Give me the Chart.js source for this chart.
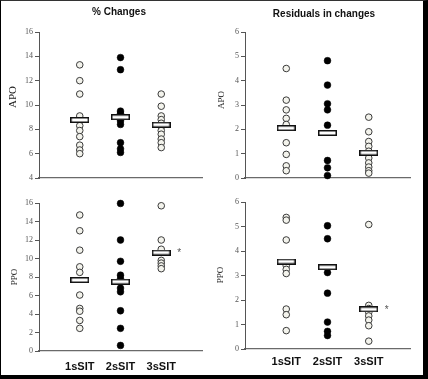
<!DOCTYPE html>
<html><head><meta charset="utf-8">
<script src="https://cdn.jsdelivr.net/npm/chart.js@4/dist/chart.umd.min.js"></script>
<style>
html,body{margin:0;padding:0;background:#fff;}
#wrap{position:relative;width:428px;height:379px;overflow:hidden;background:#fff;}
#frame{position:absolute;left:0;top:0;width:428px;height:379px;box-sizing:border-box;border-left:1px solid #000;border-top:1px solid #333;border-right:5px solid #000;border-bottom:4px solid #000;pointer-events:none;z-index:2;}
canvas{position:absolute;}
</style></head><body>
<div id="wrap">
<canvas id="c0" width="214" height="190" style="left:0;top:0"></canvas>
<canvas id="c1" width="214" height="190" style="left:214px;top:0"></canvas>
<canvas id="c2" width="214" height="189" style="left:0;top:190px"></canvas>
<canvas id="c3" width="214" height="189" style="left:214px;top:190px"></canvas>
<div id="frame"></div>
</div>
<script>
// ---- data ----
const categories = ['1sSIT', '2sSIT', '3sSIT'];
const panelTitles = ['% Changes', 'Residuals in changes'];
const rowTitles = ['APO', 'PPO'];

const pctTicksApo = [4, 6, 8, 10, 12, 14, 16];
const pctTicksPpo = [0, 2, 4, 6, 8, 10, 12, 14, 16];
const resTicks = [0, 1, 2, 3, 4, 5, 6];

const apoPct1sSIT = [13.3, 12.0, 10.9, 9.1, 8.3, 7.9, 7.4, 6.7, 6.3, 6.0];
const apoPct2sSIT = [13.9, 12.9, 9.5, 9.3, 8.9, 8.7, 8.4, 6.9, 6.4, 6.1];
const apoPct3sSIT = [10.9, 9.9, 9.1, 8.8, 8.5, 8.2, 7.9, 7.6, 7.2, 6.9, 6.5];
const apoPctMeans = [8.77, 9.0, 8.38];

const apoRes1sSIT = [4.5, 3.2, 2.8, 2.45, 2.2, 1.45, 0.97, 0.5, 0.3];
const apoRes2sSIT = [4.82, 3.82, 3.05, 2.8, 2.17, 0.72, 0.42, 0.1];
const apoRes3sSIT = [2.5, 1.9, 1.5, 1.3, 1.1, 0.82, 0.62, 0.45, 0.3, 0.2];
const apoResMeans = [2.05, 1.85, 1.04];

const ppoPct1sSIT = [14.7, 13.0, 10.9, 9.1, 8.5, 6.05, 4.6, 4.3, 3.3, 2.45];
const ppoPct2sSIT = [15.95, 12.0, 9.7, 8.2, 7.8, 6.8, 6.4, 4.35, 2.45, 0.6];
const ppoPct3sSIT = [15.7, 12.0, 11.0, 9.8, 9.5, 9.2, 8.9];
const ppoPctMeans = [7.67, 7.49, 10.64];

const ppoRes1sSIT = [5.37, 5.26, 4.45, 3.4, 3.25, 3.08, 1.63, 1.4, 0.75];
const ppoRes2sSIT = [5.03, 4.5, 3.12, 2.28, 1.1, 0.72, 0.55];
const ppoRes3sSIT = [5.08, 1.78, 1.65, 1.5, 1.35, 1.18, 0.95, 0.32];
const ppoResMeans = [3.57, 3.34, 1.62];

const significantPpo = [false, false, true];

// ---- rendering ----
function makeMeanMarker() {
  const c = document.createElement('canvas');
  c.width = 19; c.height = 6;
  const g = c.getContext('2d');
  g.fillStyle = '#111';
  g.fillRect(0, 0, 19, 6);
  g.fillStyle = '#fff';
  g.fillRect(1.5, 1.5, 16, 3);
  return c;
}
const meanMarker = makeMeanMarker();

const textPlugin = {
  id: 'panelText',
  afterDraw(chart, args, o) {
    const ctx = chart.ctx;
    ctx.save();
    ctx.textAlign = 'center';
    ctx.textBaseline = 'middle';
    if (o.title) {
      ctx.font = 'bold 10px "Liberation Sans", Arial, sans-serif';
      ctx.fillStyle = '#111';
      ctx.fillText(o.title, o.titleX, o.titleY);
    }
    if (o.stars) {
      const xs = chart.scales.x, ys = chart.scales.y;
      ctx.font = '10px "Liberation Sans", Arial, sans-serif';
      ctx.fillStyle = '#555';
      o.stars.forEach((s, i) => {
        if (s) ctx.fillText('*', xs.getPixelForValue(i + 1) + 18, ys.getPixelForValue(o.means[i]) + 1);
      });
    }
    ctx.translate(o.axisX, o.axisY);
    ctx.rotate(-Math.PI / 2);
    ctx.font = o.axisSize + 'px "Liberation Serif", "Times New Roman", serif';
    ctx.fillStyle = '#222';
    ctx.fillText(o.axisTitle, 0, 0);
    ctx.restore();
  }
};

function makePanel(p) {
  const datasets = [{
    data: p.means.map((m, i) => ({x: i + 1, y: m})),
    pointStyle: meanMarker,
    radius: 9,
    clip: false,
    order: -1
  }];
  p.groups.forEach((vals, i) => {
    const filled = i === 1;
    datasets.push({
      data: vals.map(v => ({x: i + 1, y: v})),
      pointStyle: 'circle',
      radius: filled ? 3.4 : 3.3,
      borderWidth: filled ? 0.5 : 1,
      borderColor: filled ? '#000' : '#3a3a3a',
      backgroundColor: filled ? '#000' : '#f3f3ec',
      clip: false
    });
  });
  new Chart(document.getElementById(p.id), {
    type: 'scatter',
    data: {datasets},
    plugins: [textPlugin],
    options: {
      responsive: false,
      animation: false,
      devicePixelRatio: 1,
      layout: {padding: p.pad},
      plugins: {
        legend: {display: false},
        tooltip: {enabled: false},
        panelText: {
          title: p.title, titleX: p.titleX, titleY: p.titleY,
          axisTitle: p.axisTitle, axisX: p.axisX, axisY: p.axisY, axisSize: p.axisSize,
          stars: p.stars, means: p.means
        }
      },
      scales: {
        x: {
          type: 'linear', min: 0, max: 4,
          afterBuildTicks: s => { s.ticks = categories.map((c, i) => ({value: i + 1})); },
          afterFit: s => { s.height = p.xH; },
          grid: {display: true, drawOnChartArea: false, drawTicks: false},
          border: {display: true, color: '#6a6a6a', width: 1.2},
          ticks: {
            display: p.showX,
            padding: p.xPad,
            color: '#111',
            font: {family: '"Liberation Sans", Arial, sans-serif', size: 11, weight: 'bold'},
            callback: v => categories[v - 1] || ''
          }
        },
        y: {
          type: 'linear', min: p.ticks[0], max: p.ticks[p.ticks.length - 1],
          afterBuildTicks: s => { s.ticks = p.ticks.map(v => ({value: v})); },
          afterFit: s => { s.width = p.yW; },
          grid: {display: true, drawOnChartArea: false, drawTicks: true, tickLength: 4, color: '#555', lineWidth: 1},
          border: {display: true, color: '#555', width: 1},
          ticks: {
            padding: 2,
            color: '#555',
            font: {family: '"Liberation Serif", "Times New Roman", serif', size: 8}
          }
        }
      }
    }
  });
}

makePanel({id: 'c0', groups: [apoPct1sSIT, apoPct2sSIT, apoPct3sSIT], means: apoPctMeans, ticks: pctTicksApo,
  pad: {left: 0, top: 32, right: 12, bottom: 12}, yW: 39, xH: 0, showX: false, xPad: 0,
  title: panelTitles[0], titleX: 119, titleY: 12, axisTitle: rowTitles[0], axisX: 13, axisY: 97, axisSize: 11, stars: null});
makePanel({id: 'c1', groups: [apoRes1sSIT, apoRes2sSIT, apoRes3sSIT], means: apoResMeans, ticks: resTicks,
  pad: {left: 0, top: 32, right: 18, bottom: 12}, yW: 31, xH: 0, showX: false, xPad: 0,
  title: panelTitles[1], titleX: 110, titleY: 14, axisTitle: rowTitles[0], axisX: 8, axisY: 100, axisSize: 9, stars: null});
makePanel({id: 'c2', groups: [ppoPct1sSIT, ppoPct2sSIT, ppoPct3sSIT], means: ppoPctMeans, ticks: pctTicksPpo,
  pad: {left: 0, top: 13, right: 12, bottom: 0}, yW: 39, xH: 28, showX: true, xPad: 9,
  title: null, axisTitle: rowTitles[1], axisX: 15, axisY: 87, axisSize: 9, stars: significantPpo});
makePanel({id: 'c3', groups: [ppoRes1sSIT, ppoRes2sSIT, ppoRes3sSIT], means: ppoResMeans, ticks: resTicks,
  pad: {left: 0, top: 12, right: 18, bottom: 0}, yW: 31, xH: 30, showX: true, xPad: 6,
  title: null, axisTitle: rowTitles[1], axisX: 7, axisY: 85, axisSize: 9, stars: significantPpo});
</script>
</body></html>
